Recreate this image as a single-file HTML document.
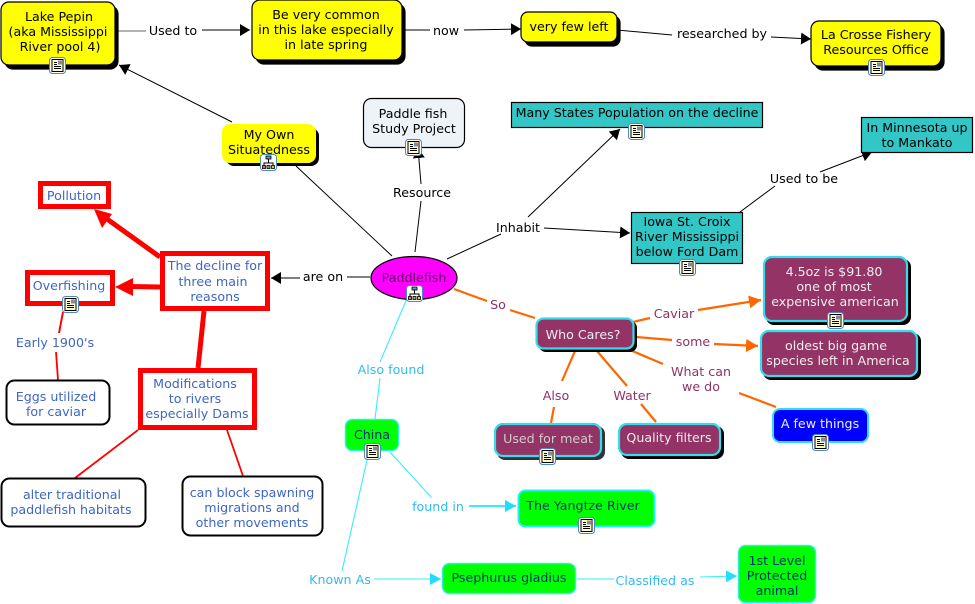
<!DOCTYPE html>
<html><head><meta charset="utf-8"><style>
html,body{margin:0;padding:0;background:#fff}
svg{display:block}
text{font-family:"DejaVu Sans",sans-serif;font-size:12.65px;text-anchor:middle}
.k{fill:#000}.b{fill:#3f66c4}.m{fill:#8f3366}.w{fill:#fff}.c{fill:#33bbee}.n{fill:#003366}
.lk{stroke:#000;stroke-width:1;fill:none}
.lr{stroke:#f00;fill:none}
.lo{stroke:#f60;stroke-width:2.2;fill:none}
.lc{stroke:#33eeff;stroke-width:1.1;fill:none}
</style></head><body>
<svg width="975" height="604" viewBox="0 0 975 604" xmlns="http://www.w3.org/2000/svg">
<defs>
<marker id="ak" markerUnits="userSpaceOnUse" markerWidth="12" markerHeight="12" refX="10" refY="6" orient="auto"><path d="M0 0L10 6L0 12z" fill="#000"/></marker>
<marker id="ao" markerUnits="userSpaceOnUse" markerWidth="14" markerHeight="14" refX="12" refY="6.500" orient="auto"><path d="M0 0L12 6.500L0 13z" fill="#f60"/></marker>
<marker id="ac" markerUnits="userSpaceOnUse" markerWidth="12" markerHeight="14" refX="11" refY="6" orient="auto"><path d="M0 0L11 6L0 12z" fill="#22ddff"/></marker>
<symbol id="doc" viewBox="0 0 17 17" overflow="visible">
<rect x=".5" y=".5" width="16" height="16" rx="3" fill="#fff" stroke="#4f86c6"/>
<path d="M3 2.500h11v12H3z" fill="#ffffc8" stroke="#000" stroke-width="1"/>
<path d="M5 5.500h3M5 7.500h3M5 9.500h7M5 11.500h7" stroke="#000" stroke-width="1"/>
<rect x="9" y="3.500" width="4" height="4" fill="#6a8fc0"/><rect x="11" y="3.500" width="2" height="2" fill="#e07050"/>
</symbol>
<symbol id="map" viewBox="0 0 17 17" overflow="visible">
<rect x=".5" y=".5" width="16" height="16" rx="3" fill="#fff" stroke="#4f86c6"/>
<path d="M8.500 5v4M4 12V9h9v3" fill="none" stroke="#000"/>
<rect x="6" y="2" width="5" height="3" fill="#6a8fc0" stroke="#000" stroke-width=".8"/>
<rect x="2.500" y="11.500" width="3" height="3" fill="#e07050" stroke="#000" stroke-width=".8"/>
<rect x="7" y="11.500" width="3" height="3" fill="#7fb070" stroke="#000" stroke-width=".8"/>
<rect x="11.500" y="11.500" width="3" height="3" fill="#e0c050" stroke="#000" stroke-width=".8"/>
</symbol>
</defs>

<!-- black links -->
<g class="lk">
<path d="M118 31H146" stroke="#666"/><path d="M202 30H250" marker-end="url(#ak)"/>
<path d="M405 30H430"/><path d="M464 30L521 29" marker-end="url(#ak)"/>
<path d="M617 30L672 35"/><path d="M771 37L811 39" marker-end="url(#ak)"/>
<path d="M232 122L119 65" marker-end="url(#ak)"/>
<path d="M296 166L392 256"/>
<path d="M415 252L421 201"/><path d="M421 184L418 148" marker-end="url(#ak)"/>
<path d="M447 259L501 234"/><path d="M528 217L620 129" marker-end="url(#ak)"/>
<path d="M544 228L630 233" marker-end="url(#ak)"/>
<path d="M740 212L775 186"/><path d="M820 172L872 152" marker-end="url(#ak)"/>
<path d="M347 277H370"/><path d="M300 278H271" marker-end="url(#ak)"/>
</g>
<!-- red links -->
<g class="lr">
<path d="M160 257L107 219" stroke-width="5"/>
<path d="M160 287L131 286.500" stroke-width="5"/>
<path d="M204 311L198 368" stroke-width="5"/>
<path d="M63 312L59 333" stroke-width="2"/><path d="M56 352L58 380" stroke-width="1.800"/>
<path d="M138 430L75 478" stroke-width="1.800"/><path d="M227 430L243 476" stroke-width="1.800"/>
</g>
<polygon points="94,209 112,214 102,228" fill="#f00"/>
<polygon points="115,287 133,278 133,296" fill="#f00"/>
<!-- orange links -->
<g class="lo">
<path d="M454 289L487 301"/><path d="M510 310L535 318"/>
<path d="M633 322L650 318"/><path d="M698 310L761 300" marker-end="url(#ao)"/>
<path d="M636 337L672 340"/><path d="M714 344L758 346" marker-end="url(#ao)"/>
<path d="M630 350L663 364"/><path d="M739 393L776 407"/>
<path d="M575 351L562 381"/><path d="M554 407L551 423"/>
<path d="M597 351L627 386"/><path d="M641 404L656 422"/>
</g>
<!-- cyan links -->
<g class="lc">
<path d="M408 296L380 362"/><path d="M380 378L375 419"/>
<path d="M367 460L342 571"/>
<path d="M390 452L431 497"/><path d="M469 506H516" stroke-width="2" marker-end="url(#ac)"/>
<path d="M374 579H441" marker-end="url(#ac)"/>
<path d="M577 579H614"/><path d="M700 577L737 576" marker-end="url(#ac)"/>
</g>

<!-- yellow nodes -->
<g stroke="#000" stroke-width="1.200">
<rect x="5" y="6" width="113" height="63" rx="8" fill="#000"/>
<rect x="1" y="2" width="114" height="63" rx="8" fill="#ff0"/>
<rect x="256" y="4" width="149" height="60" rx="8" fill="#000"/>
<rect x="252" y="0" width="150" height="60" rx="8" fill="#ff0"/>
<rect x="525" y="16" width="95" height="30" rx="7" fill="#000"/>
<rect x="521" y="12" width="96" height="30" rx="7" fill="#ff0"/>
<rect x="815" y="25" width="129" height="45" rx="8" fill="#000"/>
<rect x="811" y="21" width="130" height="45" rx="8" fill="#ff0"/>
</g>
<rect x="226" y="128" width="93" height="38" rx="8" fill="#000"/>
<rect x="222" y="124" width="94" height="39" rx="8" fill="#ff0"/>
<!-- paddle fish study -->
<rect x="363.500" y="98.500" width="101" height="49" rx="8" fill="#eef3f7" stroke="#000" stroke-width="1.200"/>
<!-- teal -->
<g fill="#33c6c6" stroke="#000" stroke-width="1.200">
<rect x="511.500" y="102.500" width="251" height="25"/>
<rect x="861.500" y="117.500" width="111" height="35"/>
<rect x="631.500" y="212.500" width="111" height="51"/>
</g>
<!-- main ellipse -->
<ellipse cx="414" cy="278" rx="43" ry="21.500" fill="#f0f" stroke="#000" stroke-width="1.200"/>
<!-- red nodes -->
<g fill="#fff" stroke="#f00" stroke-width="5">
<rect x="162.500" y="253.500" width="105" height="55"/>
<rect x="40.500" y="183.500" width="68" height="23"/>
<rect x="27.500" y="272.500" width="85" height="31"/>
<rect x="140.500" y="370.500" width="114" height="57"/>
</g>
<!-- white rounded -->
<g fill="#fff" stroke="#000" stroke-width="2">
<rect x="6.500" y="380.500" width="103" height="44" rx="8"/>
<rect x="1.500" y="478.500" width="144" height="48" rx="8"/>
<rect x="182.500" y="476.500" width="140" height="59" rx="8"/>
</g>
<!-- maroon nodes -->
<g fill="#000">
<rect x="539" y="321" width="98" height="31" rx="7"/>
<rect x="766" y="259" width="145" height="66" rx="8"/>
<rect x="763" y="333" width="158" height="47" rx="8"/>
<rect x="497" y="426" width="108" height="34" rx="8" fill="#333"/>
<rect x="621" y="426" width="103" height="33" rx="8"/>
</g>
<g fill="#933366" stroke="#33ddee" stroke-width="2.200">
<rect x="536.500" y="318.500" width="97" height="30" rx="7"/>
<rect x="764" y="257" width="143" height="64" rx="8"/>
<rect x="761" y="331" width="156" height="45" rx="8"/>
<rect x="495" y="424" width="106" height="32" rx="8"/>
<rect x="619" y="424" width="101" height="31" rx="8"/>
</g>
<rect x="773" y="409" width="95" height="33" rx="7" fill="#00f" stroke="#33ddee" stroke-width="2"/>
<!-- green -->
<g fill="#0f0" stroke="#33eedd" stroke-width="1.500">
<rect x="345.500" y="419.500" width="53" height="31" rx="7"/>
<rect x="518.500" y="490.500" width="136" height="36" rx="7" stroke="#22eeff" stroke-width="2"/>
<rect x="442.500" y="563.500" width="133" height="30" rx="7"/>
<rect x="738.500" y="545.500" width="77" height="57" rx="7"/>
</g>

<!-- node text -->
<text class="k" x="59" y="21">Lake Pepin</text>
<text class="k" x="58" y="36">(aka Mississippi</text>
<text class="k" x="60" y="51">River pool 4)</text>
<text class="k" x="326" y="19">Be very common</text>
<text class="k" x="326" y="34">in this lake especially</text>
<text class="k" x="326" y="49">in late spring</text>
<text class="k" x="569" y="31">very few left</text>
<text class="k" x="876" y="39">La Crosse Fishery</text>
<text class="k" x="876" y="54">Resources Office</text>
<text class="k" x="269" y="139">My Own</text>
<text class="k" x="269" y="154">Situatedness</text>
<text class="k" x="413" y="118">Paddle fish</text>
<text class="k" x="414" y="133">Study Project</text>
<text class="k" x="637" y="117">Many States Population on the decline</text>
<text class="k" x="917" y="132">In Minnesota up</text>
<text class="k" x="917" y="147">to Mankato</text>
<text class="k" x="687" y="226">Iowa St. Croix</text>
<text class="k" x="687" y="241">River Mississippi</text>
<text class="k" x="687" y="256">below Ford Dam</text>
<text x="414" y="282" style="fill:#600060">Paddlefish</text>
<text class="b" x="215" y="270">The decline for</text>
<text class="b" x="213" y="286">three main</text>
<text class="b" x="215" y="301">reasons</text>
<text class="b" x="74" y="200">Pollution</text>
<text class="b" x="69" y="290">Overfishing</text>
<text class="b" x="195" y="388">Modifications</text>
<text class="b" x="195" y="403">to rivers</text>
<text class="b" x="197" y="418">especially Dams</text>
<text class="b" x="56" y="401">Eggs utilized</text>
<text class="b" x="56" y="416">for caviar</text>
<text class="b" x="72" y="499">alter traditional</text>
<text class="b" x="71" y="514">paddlefish habitats</text>
<text class="b" x="252" y="497">can block spawning</text>
<text class="b" x="252" y="512">migrations and</text>
<text class="b" x="252" y="527">other movements</text>
<text x="583" y="339" style="fill:#eee">Who Cares?</text>
<text x="834" y="276" style="fill:#eee">4.5oz is $91.80</text>
<text x="834" y="291" style="fill:#eee">one of most</text>
<text x="835" y="306" style="fill:#eee">expensive american</text>
<text x="836" y="350" style="fill:#eee">oldest big game</text>
<text x="838" y="365" style="fill:#eee">species left in America</text>
<text x="548" y="443" style="fill:#ccc">Used for meat</text>
<text x="669" y="442" style="fill:#eee">Quality filters</text>
<text x="820" y="428" style="fill:#eee">A few things</text>
<text class="n" x="372" y="439">China</text>
<text class="n" x="583" y="510">The Yangtze River</text>
<text class="n" x="509" y="582">Psephurus gladius</text>
<text class="n" x="777" y="565">1st Level</text>
<text class="n" x="777" y="580">Protected</text>
<text class="n" x="777" y="595">animal</text>

<!-- link labels -->
<text class="k" x="173" y="35">Used to</text>
<text class="k" x="446" y="35">now</text>
<text class="k" x="722" y="38">researched by</text>
<text class="k" x="422" y="197">Resource</text>
<text class="k" x="518" y="232">Inhabit</text>
<text class="k" x="804" y="183">Used to be</text>
<text class="k" x="323" y="281">are on</text>
<text class="m" x="498" y="309">So</text>
<text class="m" x="674" y="318">Caviar</text>
<text class="m" x="693" y="346">some</text>
<text class="m" x="701" y="376">What can</text>
<text class="m" x="701" y="391">we do</text>
<text class="m" x="556" y="400">Also</text>
<text class="m" x="632" y="400">Water</text>
<text class="b" x="55" y="347">Early 1900's</text>
<text class="c" x="391" y="374">Also found</text>
<text class="c" x="438" y="511">found in</text>
<text class="c" x="340" y="584">Known As</text>
<text class="c" x="655" y="585">Classified as</text>

<!-- icons -->
<use href="#doc" x="49" y="57" width="17" height="17"/>
<use href="#map" x="260" y="154" width="17" height="17"/>
<use href="#doc" x="405" y="139" width="17" height="17"/>
<use href="#doc" x="628" y="123" width="17" height="17"/>
<use href="#doc" x="868" y="59" width="17" height="17"/>
<use href="#doc" x="679" y="259" width="17" height="17"/>
<use href="#map" x="406" y="285" width="17" height="17"/>
<use href="#doc" x="62" y="296" width="17" height="17"/>
<use href="#doc" x="827" y="312" width="17" height="17"/>
<use href="#doc" x="539" y="448" width="17" height="17"/>
<use href="#doc" x="812" y="434" width="17" height="17"/>
<use href="#doc" x="364" y="443" width="17" height="17"/>
<use href="#doc" x="578" y="517" width="17" height="17"/>
</svg>
</body></html>
